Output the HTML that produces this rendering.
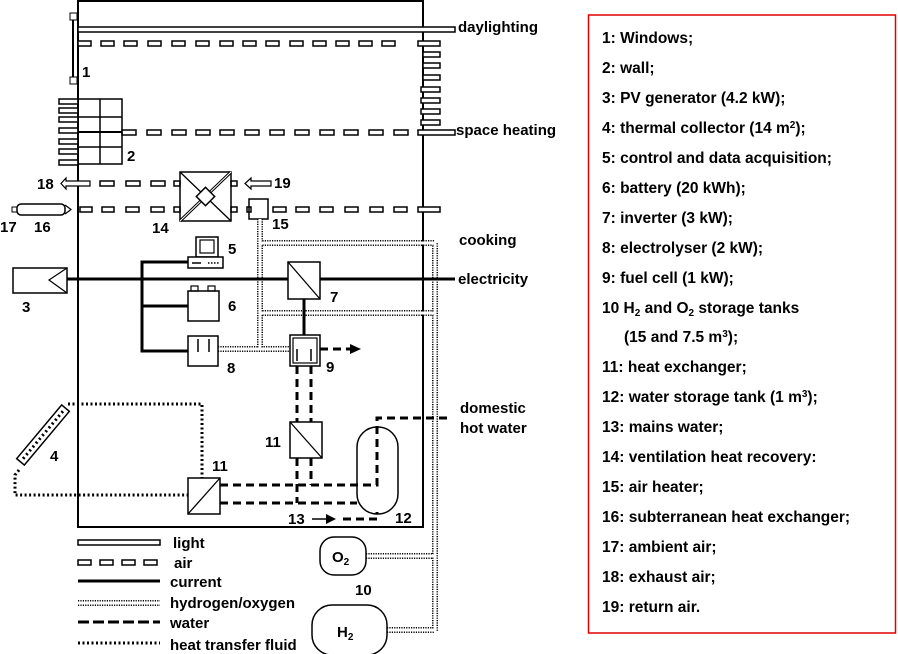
<!DOCTYPE html>
<html><head><meta charset="utf-8"><style>
body{margin:0;background:#fff;width:898px;height:654px;overflow:hidden}
svg{position:absolute;left:0;top:0}
text{font-family:"Liberation Sans",Arial,sans-serif;font-weight:bold;fill:#000;font-size:15px}
.r text{font-size:15.5px}
</style></head><body>
<svg width="898" height="654" viewBox="0 0 898 654">
<g fill="none" stroke="#000">
<rect x="78" y="1" width="345" height="526" stroke-width="2"/>
<rect x="78" y="27" width="377" height="5" stroke-width="1.5" fill="#fff"/>
<line x1="73" y1="14" x2="73" y2="83" stroke-width="2"/>
<rect x="70" y="13" width="7" height="7" fill="#fff"/><rect x="70" y="77" width="7" height="7" fill="#fff"/>
<g stroke-width="1.5" fill="#fff">
<rect x="78" y="41" width="13" height="5"/><rect x="101" y="41" width="13" height="5"/><rect x="124" y="41" width="13" height="5"/><rect x="148" y="41" width="13" height="5"/><rect x="172" y="41" width="13" height="5"/><rect x="196" y="41" width="13" height="5"/><rect x="220" y="41" width="13" height="5"/><rect x="243" y="41" width="13" height="5"/><rect x="266" y="41" width="13" height="5"/><rect x="290" y="41" width="13" height="5"/><rect x="313" y="41" width="13" height="5"/><rect x="336" y="41" width="13" height="5"/><rect x="359" y="41" width="13" height="5"/><rect x="382" y="41" width="13" height="5"/><rect x="418" y="41" width="22" height="5"/>
<rect x="423" y="52" width="17" height="5"/><rect x="423" y="63" width="17" height="5"/><rect x="423" y="75" width="17" height="5"/><rect x="421" y="87" width="19" height="5"/><rect x="421" y="98" width="19" height="5"/><rect x="421" y="109" width="19" height="5"/><rect x="421" y="120" width="19" height="5"/>
<rect x="122" y="130" width="14" height="5"/><rect x="147" y="130" width="14" height="5"/><rect x="172" y="130" width="14" height="5"/><rect x="196" y="130" width="14" height="5"/><rect x="220" y="130" width="14" height="5"/><rect x="245" y="130" width="14" height="5"/><rect x="270" y="130" width="14" height="5"/><rect x="295" y="130" width="14" height="5"/><rect x="320" y="130" width="14" height="5"/><rect x="344" y="130" width="14" height="5"/><rect x="369" y="130" width="14" height="5"/><rect x="394" y="130" width="14" height="5"/><rect x="418" y="130" width="37" height="5"/>
<rect x="59" y="99" width="19" height="5"/><rect x="59" y="108" width="19" height="5"/><rect x="59" y="117" width="19" height="5"/><rect x="59" y="128" width="19" height="5"/><rect x="59" y="139" width="19" height="5"/><rect x="59" y="149" width="19" height="5"/><rect x="59" y="160" width="19" height="5"/>
<rect x="100" y="181" width="14" height="5"/><rect x="126" y="181" width="14" height="5"/><rect x="151" y="181" width="14" height="5"/><rect x="174" y="181" width="6" height="5"/><rect x="231" y="181" width="6" height="5"/>
<rect x="80" y="207" width="12" height="5"/><rect x="102" y="207" width="12" height="5"/><rect x="126" y="207" width="13" height="5"/><rect x="151" y="207" width="13" height="5"/><rect x="174" y="207" width="6" height="5"/><rect x="231" y="207" width="6" height="5"/><rect x="247" y="207" width="4" height="5"/>
<rect x="273" y="207" width="13" height="5"/><rect x="296" y="207" width="13" height="5"/><rect x="320" y="207" width="13" height="5"/><rect x="345" y="207" width="13" height="5"/><rect x="370" y="207" width="13" height="5"/><rect x="394" y="207" width="13" height="5"/><rect x="418" y="207" width="22" height="5"/>
</g>
<rect x="78" y="99" width="44" height="65" stroke-width="1.5"/>
<line x1="100" y1="99" x2="100" y2="164" stroke-width="1.5"/>
<line x1="78" y1="117" x2="122" y2="117" stroke-width="1.5"/><line x1="78" y1="132" x2="122" y2="132" stroke-width="2"/><line x1="78" y1="147" x2="122" y2="147" stroke-width="1.5"/>
<path d="M66,181 h24 v5 h-24 l0,3 -5,-5.5 5,-5.5 z" stroke-width="1.2" fill="#fff"/>
<path d="M251,181 h20 v5 h-20 v3 l-6,-5.5 6,-5.5 z" stroke-width="1.2" fill="#fff"/>
<rect x="180" y="172" width="51" height="49" stroke-width="1.5"/>
<line x1="180" y1="172" x2="231" y2="221" stroke-width="1.3"/><line x1="231" y1="172" x2="180" y2="221" stroke-width="3"/>
<line x1="231" y1="172" x2="180" y2="221" stroke="#fff" stroke-width="1"/>
<rect x="199" y="190" width="13" height="13" transform="rotate(-45 205.5 196.5)" stroke-width="1.5" fill="#fff"/>
<rect x="249" y="199" width="19" height="20" stroke-width="1.5"/>
<rect x="17" y="204" width="48" height="11" rx="4" stroke-width="1.5"/>
<rect x="12" y="207" width="5" height="5" stroke-width="1"/>
<path d="M65,205 l6,4.5 -6,4.5" stroke-width="1.2"/>
<g stroke="#000" stroke-width="6" stroke-dasharray="1.2 1.2" fill="none">
<path d="M260,219 V349 M260,243 H435 V632 M260,313 H435 M218,349 H292 M366,556 H435 M387,630 H435 M78,603 H160"/>
</g>
<g stroke="#fff" stroke-width="3" fill="none">
<path d="M260,219 V349 M260,243 H435 V632 M260,313 H435 M218,349 H292 M366,556 H435 M387,630 H435 M78,603 H160"/>
</g>
<g stroke-width="3">
<line x1="67" y1="279" x2="455" y2="279"/>
<path d="M188,262 H142 V351 H188 M142,306 H188 M304,299 V335"/>
</g>
<rect x="13" y="268" width="54" height="25" stroke-width="1.5" fill="#fff"/>
<path d="M67,268 L49,280 67,293" stroke-width="1.2"/>
<rect x="196" y="237" width="22" height="20" stroke-width="1.5" fill="#fff"/>
<rect x="200" y="240" width="14" height="13" stroke-width="1.2"/>
<rect x="188" y="257" width="35" height="11" stroke-width="1.5" fill="#fff"/>
<line x1="192" y1="263" x2="201" y2="263" stroke-width="1.5"/><line x1="208" y1="263" x2="220" y2="263" stroke-width="1.5" stroke-dasharray="1.5 1.5"/>
<rect x="188" y="291" width="31" height="30" stroke-width="1.5" fill="#fff"/>
<rect x="191" y="286" width="7" height="5" stroke-width="1.2"/><rect x="208" y="286" width="7" height="5" stroke-width="1.2"/>
<rect x="288" y="262" width="32" height="37" stroke-width="1.5" fill="#fff"/>
<line x1="288" y1="262" x2="320" y2="299" stroke-width="1.3"/>
<rect x="188" y="336" width="30" height="30" stroke-width="1.5" fill="#fff"/>
<line x1="198" y1="339" x2="198" y2="352" stroke-width="1.5"/><line x1="209" y1="339" x2="209" y2="352" stroke-width="1.5"/>
<rect x="290" y="335" width="30" height="31" stroke-width="1.5" fill="#fff"/>
<rect x="293" y="338" width="24" height="25" stroke-width="1.2"/>
<line x1="297" y1="349" x2="297" y2="361" stroke-width="1.5"/><line x1="311" y1="349" x2="311" y2="361" stroke-width="1.5"/>
<g stroke-width="3" stroke-dasharray="8 5" fill="none">
<path d="M320,349 H352"/>
<path d="M297,366 V422 M311,366 V422 M297,458 V503 M311,458 V485"/>
<path d="M220,485 H377 V418 H452"/>
<path d="M220,503 H357"/>
<path d="M343,519 H377 V512"/>
<path d="M78,622 H160" stroke-dasharray="11 4"/>
</g>
<path d="M350,344 l11,5 -11,5 z" fill="#000" stroke="none"/>
<path d="M312,519 h16" stroke-width="1.5"/><path d="M326,514 l10,5 -10,5 z" fill="#000" stroke="none"/>
<rect x="290" y="422" width="32" height="36" stroke-width="1.5" fill="#fff"/>
<line x1="290" y1="422" x2="322" y2="458" stroke-width="1.3"/>
<rect x="357" y="427" width="41" height="87" rx="20" stroke-width="1.5" fill="none"/>
<g stroke-width="3" stroke-dasharray="2 2.5" fill="none">
<path d="M68,404 H202 V478 M19,470 L15,475 V495 H188"/>
<path d="M78,643 H160"/>
</g>
<g transform="rotate(-50 43 435)">
<rect x="8" y="430" width="70" height="10" stroke-width="1.5" fill="#fff"/>
<line x1="12" y1="435" x2="74" y2="435" stroke-width="3" stroke-dasharray="2 3"/>
</g>
<rect x="188" y="478" width="32" height="36" stroke-width="1.5" fill="#fff"/>
<line x1="188" y1="514" x2="220" y2="478" stroke-width="1.3"/>
<rect x="78" y="540" width="82" height="5" stroke-width="1.5"/>
<g stroke-width="1.5"><rect x="78" y="560" width="13" height="5"/><rect x="100" y="560" width="13" height="5"/><rect x="122" y="560" width="13" height="5"/><rect x="144" y="560" width="13" height="5"/></g>
<line x1="78" y1="581" x2="160" y2="581" stroke-width="3"/>
<rect x="320" y="537" width="46" height="38" rx="14" stroke-width="1.5" fill="#fff"/>
<rect x="312" y="605" width="75" height="50" rx="20" stroke-width="1.5" fill="#fff"/>
<rect x="588.5" y="15" width="307" height="618" stroke="#e00000" stroke-width="1.5"/>
</g>
<g>
<text x="458" y="32">daylighting</text>
<text x="456" y="135">space heating</text>
<text x="459" y="245">cooking</text>
<text x="458" y="284">electricity</text>
<text x="460" y="413">domestic</text>
<text x="460" y="433">hot water</text>
<text x="82" y="77">1</text>
<text x="127" y="161">2</text>
<text x="22" y="312">3</text>
<text x="50" y="461">4</text>
<text x="228" y="254">5</text>
<text x="228" y="311">6</text>
<text x="330" y="302">7</text>
<text x="227" y="373">8</text>
<text x="326" y="372">9</text>
<text x="355" y="595">10</text>
<text x="265" y="447">11</text>
<text x="212" y="471">11</text>
<text x="395" y="523">12</text>
<text x="288" y="524">13</text>
<text x="152" y="233">14</text>
<text x="272" y="229">15</text>
<text x="34" y="232">16</text>
<text x="0" y="232">17</text>
<text x="37" y="189">18</text>
<text x="274" y="188">19</text>
<text x="332" y="562">O<tspan font-size="10" dy="3">2</tspan></text>
<text x="337" y="637">H<tspan font-size="10" dy="3">2</tspan></text>
<text x="173" y="548">light</text>
<text x="174" y="568">air</text>
<text x="170" y="587">current</text>
<text x="170" y="608">hydrogen/oxygen</text>
<text x="170" y="628">water</text>
<text x="170" y="650">heat transfer fluid</text>
</g>
<g class="r">
<text x="602" y="43">1: Windows;</text>
<text x="602" y="73">2: wall;</text>
<text x="602" y="103">3: PV generator (4.2 kW);</text>
<text x="602" y="133">4: thermal collector (14 m<tspan font-size="10" dy="-5">2</tspan><tspan dy="5">);</tspan></text>
<text x="602" y="163">5: control and data acquisition;</text>
<text x="602" y="193">6: battery (20 kWh);</text>
<text x="602" y="223">7: inverter (3 kW);</text>
<text x="602" y="253">8: electrolyser (2 kW);</text>
<text x="602" y="283">9: fuel cell (1 kW);</text>
<text x="602" y="313">10 H<tspan font-size="10" dy="3">2</tspan><tspan dy="-3"> and O</tspan><tspan font-size="10" dy="3">2</tspan><tspan dy="-3"> storage tanks</tspan></text>
<text x="624" y="342">(15 and 7.5 m<tspan font-size="10" dy="-5">3</tspan><tspan dy="5">);</tspan></text>
<text x="602" y="372">11: heat exchanger;</text>
<text x="602" y="402">12: water storage tank (1 m<tspan font-size="10" dy="-5">3</tspan><tspan dy="5">);</tspan></text>
<text x="602" y="432">13: mains water;</text>
<text x="602" y="462">14: ventilation heat recovery:</text>
<text x="602" y="492">15: air heater;</text>
<text x="602" y="522">16: subterranean heat exchanger;</text>
<text x="602" y="552">17: ambient air;</text>
<text x="602" y="582">18: exhaust air;</text>
<text x="602" y="612">19: return air.</text>
</g>
</svg>
</body></html>
